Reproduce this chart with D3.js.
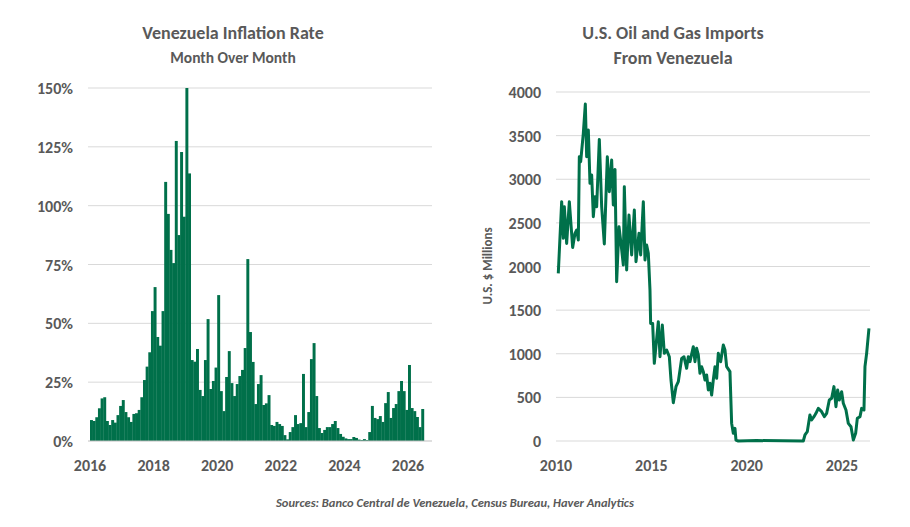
<!DOCTYPE html>
<html><head><meta charset="utf-8">
<script src="https://cdn.jsdelivr.net/npm/d3@7"></script>
<style>body{margin:0;background:#fff}text{font-family:Calibri,Carlito,"Liberation Sans",Arial,sans-serif}</style>
</head><body><svg id="c" width="910" height="527"></svg>
<script>
// Venezuela inflation, monthly from Jan 2016 (%)
const inflStartYear = 2016;
const inflTop = [1020,1023,1012,985,955,952,1023,1035,1020,1028,1005,978,960,996,1012,1026,1002,1000,990,952,900,860,817,693,621,771,797,693,306,402,510,549,183,465,216,410,24,280,840,845,807,930,948,840,717,927,903,863,645,933,993,891,813,909,948,912,888,870,804,537,756,846,972,912,885,975,970,945,1035,1038,1026,1032,1038,1065,1078,1056,1041,1005,1032,1029,882,1041,996,837,789,948,1044,1059,1050,1041,1041,1032,1023,1044,1062,1070,1075,1077,1077,1071,1074,1079,1080,1077,1080,1056,978,1014,1017,1008,1026,969,936,1014,984,972,933,903,933,990,855,984,993,1011,1041,987];
const inflation = inflTop.map(v => Math.round((1083 - v) / 7.06 * 10) / 10);
const inflTicks = [0,25,50,75,100,125,150];
const inflYears = [2016,2018,2020,2022,2024,2026];

// US oil & gas imports from Venezuela (US$ millions), [year fraction, value]
const importYears = [2010.12,2010.297,2010.384,2010.437,2010.559,2010.699,2010.874,2010.996,2011.084,2011.171,2011.223,2011.294,2011.433,2011.538,2011.608,2011.695,2011.783,2011.870,2011.958,2012.045,2012.133,2012.272,2012.395,2012.534,2012.692,2012.797,2012.919,2013.006,2013.094,2013.181,2013.304,2013.409,2013.531,2013.583,2013.706,2013.828,2013.968,2014.108,2014.195,2014.352,2014.440,2014.580,2014.667,2014.754,2014.842,2014.929,2014.964,2015.069,2015.156,2015.366,2015.454,2015.576,2015.681,2015.803,2015.943,2016.031,2016.153,2016.293,2016.415,2016.590,2016.712,2016.852,2016.939,2017.027,2017.202,2017.289,2017.376,2017.464,2017.551,2017.638,2017.726,2017.813,2017.901,2017.988,2018.076,2018.163,2018.250,2018.338,2018.425,2018.512,2018.635,2018.775,2018.862,2018.950,2019.124,2019.212,2019.299,2019.386,2019.439,2019.561,2020.523,2022.970,2023.057,2023.179,2023.317,2023.407,2023.529,2023.634,2023.757,2023.932,2024.072,2024.194,2024.334,2024.457,2024.578,2024.683,2024.771,2024.858,2024.981,2025.068,2025.208,2025.331,2025.472,2025.594,2025.716,2025.803,2025.944,2026.031,2026.152,2026.205,2026.292,2026.414];
const importValues = [1921,2743,2323,2686,2265,2743,2219,2380,2418,2303,3258,3201,3526,3862,3258,3564,2953,3048,2571,2800,2685,3457,2685,2258,3258,2857,3220,2705,3113,1826,2456,2265,2017,2915,1960,2590,2132,2647,2055,2380,2132,2743,2074,2246,2151,1730,1348,1348,890,1368,966,1329,1005,1043,966,699,439,623,680,947,966,833,966,909,1081,909,1062,986,776,852,795,699,756,585,661,527,699,852,718,1005,909,1100,1043,852,795,202,88,145,11,0,5,0,69,107,298,241,279,317,374,336,279,317,470,489,623,393,585,470,565,432,355,202,164,11,88,260,279,374,355,852,1005,1291];
const importTicks = [0,500,1000,1500,2000,2500,3000,3500,4000];
const importXTicks = [2010,2015,2020,2025];

const green = "#00704A", txt = "#595959", grid = "#d9d9d9";
const svg = d3.select("#c");

// ---- Left chart
const lx = d3.scaleLinear().domain([2016, 2026]).range([90, 408]);
const ly = d3.scaleLinear().domain([0, 150]).range([441, 88]);
const L = svg.append("g");
L.selectAll("line.g").data(inflTicks.slice(1)).join("line")
  .attr("x1", 88).attr("x2", 432).attr("y1", d => ly(d)).attr("y2", d => ly(d))
  .attr("stroke", grid).attr("stroke-width", 1);
const bw = lx(2016 + 1/12) - lx(2016);
L.selectAll("rect").data(inflation).join("rect")
  .attr("x", (d, i) => lx(inflStartYear + i / 12))
  .attr("width", bw + 0.3)
  .attr("y", d => ly(d)).attr("height", d => ly(0) - ly(d))
  .attr("fill", green);
L.append("line").attr("x1", 88).attr("x2", 432).attr("y1", ly(0)).attr("y2", ly(0)).attr("stroke", "#bfbfbf");
L.selectAll("text.y").data(inflTicks).join("text")
  .attr("x", 73).attr("y", d => ly(d) + 6).attr("text-anchor", "end")
  .attr("font-size", 16).attr("font-weight", "bold").attr("fill", txt).text(d => d + "%");
L.selectAll("text.x").data(inflYears).join("text")
  .attr("x", d => lx(d)).attr("y", 471).attr("text-anchor", "middle")
  .attr("font-size", 16).attr("font-weight", "bold").attr("fill", txt).text(d => d);
L.append("text").attr("x", 233).attr("y", 39).attr("text-anchor", "middle").attr("font-size", 18).attr("font-weight", "bold").attr("fill", txt).text("Venezuela Inflation Rate");
L.append("text").attr("x", 233).attr("y", 63).attr("text-anchor", "middle").attr("font-size", 15.5).attr("font-weight", "bold").attr("fill", txt).text("Month Over Month");

// ---- Right chart
const rx = d3.scaleLinear().domain([2010, 2025]).range([556, 842]);
const ry = d3.scaleLinear().domain([0, 4000]).range([441, 92]);
const R = svg.append("g");
R.selectAll("line.g").data(importTicks).join("line")
  .attr("x1", 556).attr("x2", 870).attr("y1", d => ry(d)).attr("y2", d => ry(d))
  .attr("stroke", grid).attr("stroke-width", 1);
const pts = importYears.map((y, i) => [y, importValues[i]]);
R.append("path").datum(pts)
  .attr("d", d3.line().x(d => rx(d[0])).y(d => ry(d[1])))
  .attr("fill", "none").attr("stroke", green).attr("stroke-width", 3).attr("stroke-linejoin", "round");
R.selectAll("text.y").data(importTicks).join("text")
  .attr("x", 541).attr("y", d => ry(d) + 6).attr("text-anchor", "end")
  .attr("font-size", 16).attr("font-weight", "bold").attr("fill", txt).text(d => d);
R.selectAll("text.x").data(importXTicks).join("text")
  .attr("x", d => rx(d)).attr("y", 471).attr("text-anchor", "middle")
  .attr("font-size", 16).attr("font-weight", "bold").attr("fill", txt).text(d => d);
R.append("text").attr("transform", "translate(492,266) rotate(-90)").attr("text-anchor", "middle")
  .attr("font-size", 13).attr("font-weight", "bold").attr("fill", txt).text("U.S. $ Millions");
R.append("text").attr("x", 673).attr("y", 39).attr("text-anchor", "middle").attr("font-size", 18).attr("font-weight", "bold").attr("fill", txt).text("U.S. Oil and Gas Imports");
R.append("text").attr("x", 673).attr("y", 64).attr("text-anchor", "middle").attr("font-size", 18).attr("font-weight", "bold").attr("fill", txt).text("From Venezuela");

svg.append("text").attr("x", 455).attr("y", 507).attr("text-anchor", "middle").attr("font-size", 12.5)
  .attr("font-style", "italic").attr("font-weight", "bold").attr("fill", txt)
  .text("Sources: Banco Central de Venezuela, Census Bureau, Haver Analytics");
</script></body></html>
